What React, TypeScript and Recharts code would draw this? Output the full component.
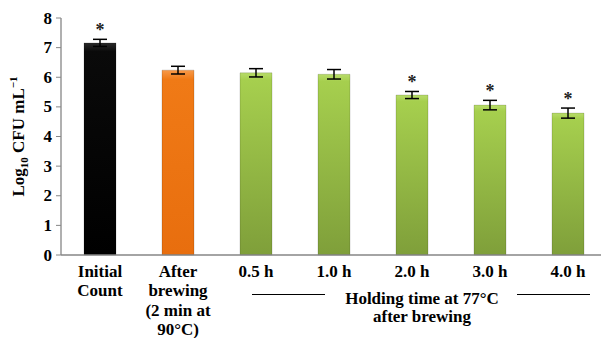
import React from "react";
import { BarChart, Bar, XAxis, YAxis, ErrorBar, Cell, LabelList, Label } from "recharts";

const categories = ["Initial Count", "After brewing (2 min at 90°C)", "0.5 h", "1.0 h", "2.0 h", "3.0 h", "4.0 h"];
const tickLines = [["Initial", "Count"], ["After", "brewing", "(2 min at", "90°C)"], ["0.5 h"], ["1.0 h"], ["2.0 h"], ["3.0 h"], ["4.0 h"]];
const logCfu = [7.16, 6.24, 6.15, 6.1, 5.4, 5.06, 4.79];
const sdErr = [0.12, 0.13, 0.14, 0.16, 0.12, 0.16, 0.17];
const significant = [true, false, false, false, true, true, true];
const fillIds = ["gBlack", "gOrange", "gGreen", "gGreen", "gGreen", "gGreen", "gGreen"];
const yTicks = [0, 1, 2, 3, 4, 5, 6, 7, 8];

const data = categories.map((c, i) => ({ name: c, idx: i, value: logCfu[i], err: sdErr[i] }));

const FONT = "'Liberation Serif', 'Times New Roman', serif";
const FS = 17;

const XTick = (props: any) => {
  const { x, y, payload } = props;
  const lines = tickLines[payload.index] || [String(payload.value)];
  return (
    <text x={x} y={y + 21.5} textAnchor="middle" style={{ fontFamily: FONT, fontWeight: "bold", fontSize: FS, fill: "#000" }}>
      {lines.map((l, i) => (
        <tspan key={i} x={x} dy={i === 0 ? 0 : 19.5}>{l}</tspan>
      ))}
    </text>
  );
};

const YTick = (props: any) => {
  const { x, y, payload } = props;
  return (
    <text x={x} y={y + 5.5} textAnchor="end" style={{ fontFamily: FONT, fontWeight: "bold", fontSize: FS, fill: "#000" }}>
      {payload.value}
    </text>
  );
};

const renderStar = (props: any) => {
  const { x, y, width, height, index, value } = props;
  if (!significant[index]) return null;
  const pxPerUnit = height / value;
  const errTop = y - sdErr[index] * pxPerUnit;
  return (
    <text key={`s${index}`} x={x + width / 2} y={errTop - 3} textAnchor="middle" style={{ fontFamily: FONT, fontWeight: "bold", fontSize: 18, fill: "#222" }}>*</text>
  );
};

const GroupLabel = (props: any) => {
  const vb = props.viewBox || {};
  const x0 = vb.x ?? 61;
  const y0 = vb.y ?? 255;
  const cx = x0 + 361;
  return (
    <g>
      <line x1={x0 + 191} x2={x0 + 264} y1={y0 + 39.5} y2={y0 + 39.5} stroke="#000" strokeWidth={1} />
      <line x1={x0 + 456} x2={x0 + 529} y1={y0 + 39.5} y2={y0 + 39.5} stroke="#000" strokeWidth={1} />
      <text x={cx} y={y0 + 48.5} textAnchor="middle" style={{ fontFamily: FONT, fontWeight: "bold", fontSize: FS, fill: "#000" }}>
        <tspan x={cx} dy={0}>Holding time at 77°C</tspan>
        <tspan x={cx} dy={18}>after brewing</tspan>
      </text>
    </g>
  );
};

const YLabel = (props: any) => {
  const vb = props.viewBox || {};
  const cy = (vb.y ?? 18) + (vb.height ?? 237) / 2;
  const cx = 24;
  return (
    <text x={cx} y={cy} transform={`rotate(-90, ${cx}, ${cy})`} textAnchor="middle" style={{ fontFamily: FONT, fontWeight: "bold", fontSize: FS, fill: "#000" }}>
      Log<tspan fontSize={11} dy={4}>10</tspan><tspan dy={-4}> CFU mL</tspan><tspan fontSize={11} dy={-7}>−1</tspan>
    </text>
  );
};

export default function App() {
  return (
    <div style={{ position: "absolute", left: 0, top: 0, width: 601, height: 338, overflow: "hidden", background: "#fff" }}>
      <BarChart width={610} height={338} data={data} margin={{ top: 18, right: 3, bottom: 0, left: 0 }} barCategoryGap={0}>
        <defs>
          <linearGradient id="gBlack" x1="0" y1="0" x2="0" y2="1">
            <stop offset="0" stopColor="#2a2a2a" />
            <stop offset="0.04" stopColor="#0a0a0a" />
            <stop offset="1" stopColor="#000000" />
          </linearGradient>
          <linearGradient id="gOrange" x1="0" y1="0" x2="0" y2="1">
            <stop offset="0" stopColor="#f79a4a" />
            <stop offset="0.05" stopColor="#f07a16" />
            <stop offset="1" stopColor="#e86e0e" />
          </linearGradient>
          <linearGradient id="gGreen" x1="0" y1="0" x2="0" y2="1">
            <stop offset="0" stopColor="#b8dc6a" />
            <stop offset="0.04" stopColor="#a6cf4e" />
            <stop offset="1" stopColor="#7f9f3a" />
          </linearGradient>
        </defs>
        <XAxis
          dataKey="name"
          interval={0}
          tick={<XTick />}
          tickLine={false}
          tickSize={0}
          tickMargin={0}
          axisLine={{ stroke: "#868686", strokeWidth: 1.3 }}
          height={83}
        >
          <Label content={<GroupLabel />} />
        </XAxis>
        <YAxis
          width={61}
          domain={[0, 8]}
          ticks={yTicks}
          interval={0}
          tickSize={5}
          tickMargin={4}
          tick={<YTick />}
          tickLine={{ stroke: "#868686" }}
          axisLine={{ stroke: "#868686", strokeWidth: 1.3 }}
        >
          <Label content={<YLabel />} />
        </YAxis>
        <Bar dataKey="value" barSize={32} isAnimationActive={false}>
          {data.map((d, i) => (
            <Cell key={i} fill={`url(#${fillIds[i]})`} stroke="rgba(0,0,0,0.15)" />
          ))}
          <ErrorBar dataKey="err" width={7} stroke="#000" strokeWidth={1.5} />
          <LabelList dataKey="value" content={renderStar} />
        </Bar>
      </BarChart>
    </div>
  );
}
